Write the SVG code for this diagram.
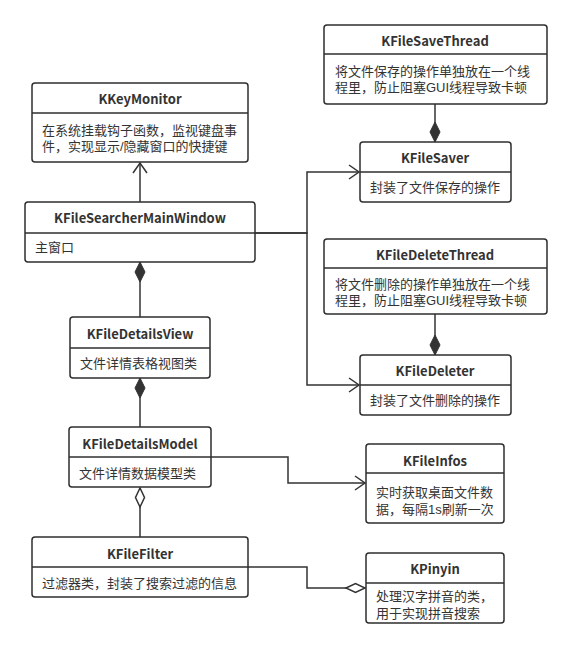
<svg xmlns="http://www.w3.org/2000/svg" width="571" height="648" viewBox="0 0 571 648">
<style>
.box{fill:#fff;stroke:#2e2e2e;stroke-width:1.5}
.div{stroke:#2e2e2e;stroke-width:1.5}
.t{font-family:"Noto Sans CJK SC","Microsoft YaHei",sans-serif;font-size:13px;font-weight:bold;fill:#333;text-anchor:middle;dominant-baseline:central}
.b{font-family:"Liberation Sans","Noto Sans CJK SC",sans-serif;font-size:13px;fill:#333;dominant-baseline:central}
.c{fill:none;stroke:#333;stroke-width:1.5}
</style>
<defs>
<marker id="arrow" markerUnits="userSpaceOnUse" markerWidth="14" markerHeight="18" refX="11" refY="8" orient="auto" overflow="visible">
<path d="M1,1 L11,8 L1,15" fill="none" stroke="#333" stroke-width="1.5"/>
</marker>
<marker id="dfill" markerUnits="userSpaceOnUse" markerWidth="22" markerHeight="12" refX="20" refY="5" orient="auto" overflow="visible">
<path d="M0,5 L10,0 L20,5 L10,10 Z" fill="#333" stroke="#333" stroke-width="1"/>
</marker>
<marker id="dhollow" markerUnits="userSpaceOnUse" markerWidth="22" markerHeight="12" refX="19" refY="4.5" orient="auto" overflow="visible">
<path d="M0,4.5 L9.5,0 L19,4.5 L9.5,9 Z" fill="#fff" stroke="#333" stroke-width="1.5"/>
</marker>
</defs>
<g id="connectors">
<path class="c" d="M140,202 V163" marker-end="url(#arrow)"/>
<path class="c" d="M255,233 H307 V172 H359" marker-end="url(#arrow)"/>
<path class="c" d="M255,233 H307 V385 H359" marker-end="url(#arrow)"/>
<path class="c" d="M211,457 H288 V483 H365" marker-end="url(#arrow)"/>
<path class="c" d="M435,104 V142" marker-end="url(#dfill)"/>
<path class="c" d="M435,314 V355" marker-end="url(#dfill)"/>
<path class="c" d="M140,317 V262" marker-end="url(#dfill)"/>
<path class="c" d="M140,427 V378" marker-end="url(#dfill)"/>
<path class="c" d="M140,537 V488" marker-end="url(#dhollow)"/>
<path class="c" d="M248,567 H307 V588 H365" marker-end="url(#dhollow)"/>
</g>
<g id="KKeyMonitor">
<rect class="box" x="32" y="83" width="216" height="79" rx="3"/>
<line class="div" x1="32" y1="113" x2="248" y2="113"/>
<text class="t" x="140" y="98">KKeyMonitor</text>
<text class="b" x="42" y="130">在系统挂载钩子函数，监视键盘事</text>
<text class="b" x="42" y="146">件，实现显示/隐藏窗口的快捷键</text>
</g>
<g id="KFileSearcherMainWindow">
<rect class="box" x="25" y="202" width="230" height="60" rx="3"/>
<line class="div" x1="25" y1="233" x2="255" y2="233"/>
<text class="t" x="140" y="217">KFileSearcherMainWindow</text>
<text class="b" x="35" y="247">主窗口</text>
</g>
<g id="KFileSaveThread">
<rect class="box" x="324" y="25" width="223" height="79" rx="3"/>
<line class="div" x1="324" y1="54" x2="547" y2="54"/>
<text class="t" x="435" y="40">KFileSaveThread</text>
<text class="b" x="335" y="71">将文件保存的操作单独放在一个线</text>
<text class="b" x="335" y="87">程里，防止阻塞GUI线程导致卡顿</text>
</g>
<g id="KFileSaver">
<rect class="box" x="360" y="142" width="151" height="60" rx="3"/>
<line class="div" x1="360" y1="172" x2="511" y2="172"/>
<text class="t" x="435" y="157">KFileSaver</text>
<text class="b" x="370" y="187">封装了文件保存的操作</text>
</g>
<g id="KFileDeleteThread">
<rect class="box" x="324" y="239" width="223" height="75" rx="3"/>
<line class="div" x1="324" y1="268" x2="547" y2="268"/>
<text class="t" x="435" y="254">KFileDeleteThread</text>
<text class="b" x="335" y="284">将文件删除的操作单独放在一个线</text>
<text class="b" x="335" y="300">程里，防止阻塞GUI线程导致卡顿</text>
</g>
<g id="KFileDeleter">
<rect class="box" x="360" y="355" width="151" height="60" rx="3"/>
<line class="div" x1="360" y1="385" x2="511" y2="385"/>
<text class="t" x="435" y="370">KFileDeleter</text>
<text class="b" x="370" y="400">封装了文件删除的操作</text>
</g>
<g id="KFileDetailsView">
<rect class="box" x="70" y="317" width="140" height="61" rx="3"/>
<line class="div" x1="70" y1="348" x2="210" y2="348"/>
<text class="t" x="140" y="333">KFileDetailsView</text>
<text class="b" x="80" y="363">文件详情表格视图类</text>
</g>
<g id="KFileDetailsModel">
<rect class="box" x="69" y="427" width="142" height="60" rx="3"/>
<line class="div" x1="69" y1="457" x2="211" y2="457"/>
<text class="t" x="140" y="443">KFileDetailsModel</text>
<text class="b" x="79" y="473">文件详情数据模型类</text>
</g>
<g id="KFileInfos">
<rect class="box" x="366" y="444" width="138" height="79" rx="3"/>
<line class="div" x1="366" y1="473" x2="504" y2="473"/>
<text class="t" x="435" y="460">KFileInfos</text>
<text class="b" x="376" y="492">实时获取桌面文件数</text>
<text class="b" x="376" y="509">据，每隔1s刷新一次</text>
</g>
<g id="KFileFilter">
<rect class="box" x="32" y="537" width="216" height="60" rx="3"/>
<line class="div" x1="32" y1="567" x2="248" y2="567"/>
<text class="t" x="140" y="553">KFileFilter</text>
<text class="b" x="42" y="583">过滤器类，封装了搜索过滤的信息</text>
</g>
<g id="KPinyin">
<rect class="box" x="366" y="553" width="138" height="70" rx="3"/>
<line class="div" x1="366" y1="583" x2="504" y2="583"/>
<text class="t" x="435" y="568">KPinyin</text>
<text class="b" x="376" y="596">处理汉字拼音的类，</text>
<text class="b" x="376" y="613">用于实现拼音搜索</text>
</g>
</svg>
